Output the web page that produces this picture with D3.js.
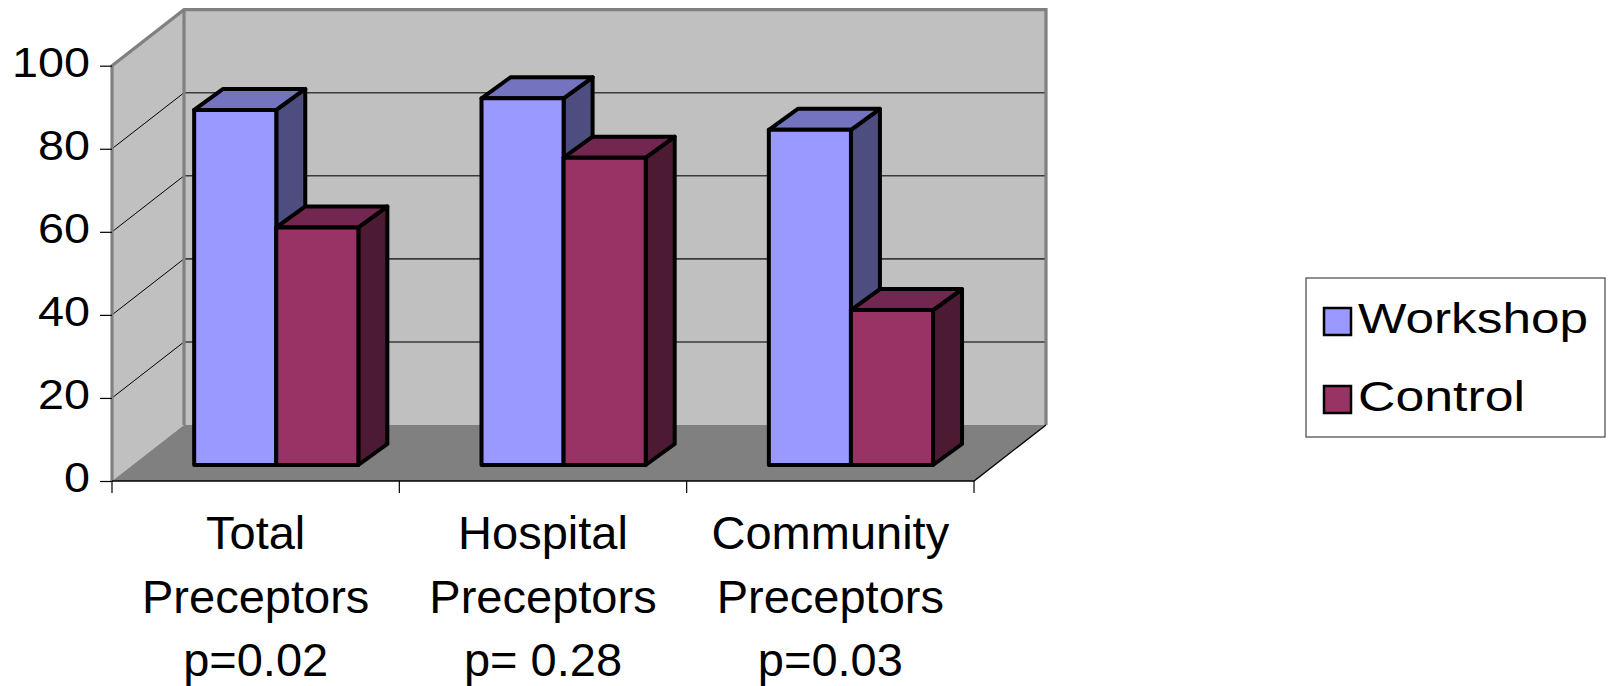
<!DOCTYPE html>
<html>
<head>
<meta charset="utf-8">
<script src="https://cdn.jsdelivr.net/npm/d3@7/dist/d3.min.js"></script>
<style>
  html, body { margin: 0; padding: 0; background: #fff; }
  svg { display: block; font-family: "Liberation Sans", Arial, sans-serif; }
</style>
</head>
<body>
<svg id="chart" width="1612" height="686"></svg>
<script>
// ---- data ----
const categories = ["Total", "Hospital", "Community"];
const categoryLabels = [
  ["Total", "Preceptors", "p=0.02"],
  ["Hospital", "Preceptors", "p= 0.28"],
  ["Community", "Preceptors", "p=0.03"]
];
const series = ["Workshop", "Control"];
const workshop = [85.5, 88.3, 80.7];
const control = [57.2, 74.0, 37.3];
const yTicks = [0, 20, 40, 60, 80, 100];

// ---- palette ----
const faceColors = {
  Workshop: { front: "#9999FF", top: "#7373BF", side: "#4D4D80" },
  Control:  { front: "#993366", top: "#732650", side: "#4D1A33" }
};

// ---- geometry of the 3-D box ----
const svg = d3.select("#chart");
const plotLeft = 112, plotRight = 974;
const depth = { dx: 72, dy: -56 };      // front plane -> back wall
const colOff = { dx: 20.6, dy: -16 };   // columns stand a little behind the front edge
const colDepth = { dx: 29, dy: -21 };   // thickness of each column

const y = d3.scaleLinear().domain([0, 100]).range([481, 65.7]);
const x0 = d3.scaleBand().domain(categories).range([plotLeft, plotRight]);
const x1 = d3.scaleBand().domain(series).range([0, x0.bandwidth()])
  .paddingInner(0).paddingOuter(0.75);

const pts = a => a.map(p => p.join(",")).join(" ");
const y0 = y(0), yMax = y(100);

// side wall
svg.append("polygon")
  .attr("points", pts([[plotLeft, yMax], [plotLeft + depth.dx, yMax + depth.dy],
                       [plotLeft + depth.dx, y0 + depth.dy], [plotLeft, y0]]))
  .attr("fill", "#C0C0C0");
// back wall
svg.append("rect")
  .attr("x", plotLeft + depth.dx).attr("y", yMax + depth.dy)
  .attr("width", plotRight - plotLeft).attr("height", y0 - yMax)
  .attr("fill", "#C0C0C0");
// floor
svg.append("polygon")
  .attr("points", pts([[plotLeft, y0], [plotRight, y0],
                       [plotRight + depth.dx, y0 + depth.dy], [plotLeft + depth.dx, y0 + depth.dy]]))
  .attr("fill", "#808080");

// gridlines on back wall and side wall
const grid = yTicks.filter(v => v > 0 && v < 100);
svg.append("g").selectAll("line").data(grid).join("line")
  .attr("x1", plotLeft + depth.dx).attr("x2", plotRight + depth.dx)
  .attr("y1", d => y(d) + depth.dy).attr("y2", d => y(d) + depth.dy)
  .attr("stroke", "#3a3a3a").attr("stroke-width", 1.6);
svg.append("g").selectAll("line").data(grid).join("line")
  .attr("x1", plotLeft).attr("x2", plotLeft + depth.dx)
  .attr("y1", d => y(d)).attr("y2", d => y(d) + depth.dy)
  .attr("stroke", "#000").attr("stroke-width", 1);

// wall outlines
const wallEdge = "#808080";
svg.append("path")
  .attr("d", `M${plotLeft},${y0} L${plotLeft},${yMax} L${plotLeft + depth.dx},${yMax + depth.dy}
              L${plotRight + depth.dx},${yMax + depth.dy} L${plotRight + depth.dx},${y0 + depth.dy}`)
  .attr("fill", "none").attr("stroke", wallEdge).attr("stroke-width", 3.2)
  .attr("stroke-linejoin", "miter");
svg.append("line")
  .attr("x1", plotLeft + depth.dx).attr("x2", plotLeft + depth.dx)
  .attr("y1", yMax + depth.dy).attr("y2", y0 + depth.dy)
  .attr("stroke", wallEdge).attr("stroke-width", 3.2);

// floor front edge and right edge
svg.append("path")
  .attr("d", `M${plotLeft},${y0} L${plotRight},${y0} L${plotRight + depth.dx},${y0 + depth.dy}`)
  .attr("fill", "none").attr("stroke", "#000").attr("stroke-width", 1.3);

// ---- columns ----
const bars = [];
categories.forEach((c, i) => {
  bars.push({ cat: c, s: "Workshop", v: workshop[i] });
  bars.push({ cat: c, s: "Control", v: control[i] });
});

const barG = svg.append("g").attr("stroke", "#000").attr("stroke-width", 4)
  .attr("stroke-linejoin", "round");
bars.forEach(b => {
  const xl = x0(b.cat) + x1(b.s) + colOff.dx;
  const xr = xl + x1.bandwidth();
  const yt = y(b.v) + colOff.dy;
  const yb = y(0) + colOff.dy;
  const col = faceColors[b.s];
  barG.append("polygon")
    .attr("points", pts([[xr, yt], [xr + colDepth.dx, yt + colDepth.dy],
                         [xr + colDepth.dx, yb + colDepth.dy], [xr, yb]]))
    .attr("fill", col.side);
  barG.append("polygon")
    .attr("points", pts([[xl, yt], [xr, yt], [xr + colDepth.dx, yt + colDepth.dy],
                         [xl + colDepth.dx, yt + colDepth.dy]]))
    .attr("fill", col.top);
  barG.append("rect")
    .attr("x", xl).attr("y", yt).attr("width", xr - xl).attr("height", yb - yt)
    .attr("fill", col.front);
});

// ---- value axis ----
const yAxis = svg.append("g").attr("transform", `translate(${plotLeft},0)`)
  .call(d3.axisLeft(y).tickValues(yTicks).tickSize(12).tickPadding(10));
yAxis.select(".domain").remove();
yAxis.selectAll(".tick line").attr("stroke", "#000").attr("stroke-width", 1.2);
yAxis.selectAll(".tick text")
  .attr("fill", "#000")
  .attr("font-family", "Liberation Sans, Arial, sans-serif")
  .attr("font-size", 43)
  .attr("dy", "0.25em")
  .attr("textLength", d => String(d).length * 26)
  .attr("lengthAdjust", "spacingAndGlyphs");

// ---- category axis ----
const bounds = categories.map(c => x0(c)).concat([plotRight]);
svg.append("g").selectAll("line").data(bounds).join("line")
  .attr("x1", d => d).attr("x2", d => d)
  .attr("y1", y0).attr("y2", y0 + 12)
  .attr("stroke", "#000").attr("stroke-width", 1.2);

const xAxis = svg.append("g").attr("transform", `translate(0,${y0})`)
  .call(d3.axisBottom(x0).tickSize(0).tickFormat(""));
xAxis.select(".domain").remove();
xAxis.selectAll(".tick").each(function (d, i) {
  const t = d3.select(this).append("text")
    .attr("fill", "#000").attr("text-anchor", "middle")
    .attr("font-family", "Liberation Sans, Arial, sans-serif")
    .attr("font-size", 47);
  categoryLabels[i].forEach((line, k) => {
    t.append("tspan").attr("x", 0).attr("y", 68 + k * 63.5).text(line);
  });
});

// ---- legend ----
const legend = svg.append("g");
legend.append("rect")
  .attr("x", 1306).attr("y", 278).attr("width", 299).attr("height", 159)
  .attr("fill", "#fff").attr("stroke", "#444").attr("stroke-width", 1.2);
const legendRows = legend.selectAll("g").data(series).join("g")
  .attr("transform", (d, i) => `translate(1324,${308 + i * 78})`);
legendRows.append("rect")
  .attr("width", 27).attr("height", 27)
  .attr("fill", d => faceColors[d].front)
  .attr("stroke", "#000").attr("stroke-width", 2.5);
legendRows.append("text")
  .attr("x", 34).attr("y", 25)
  .attr("font-size", 42.5).attr("fill", "#000")
  .attr("textLength", d => d === "Workshop" ? 230 : 167)
  .attr("lengthAdjust", "spacingAndGlyphs")
  .text(d => d);
</script>
</body>
</html>
